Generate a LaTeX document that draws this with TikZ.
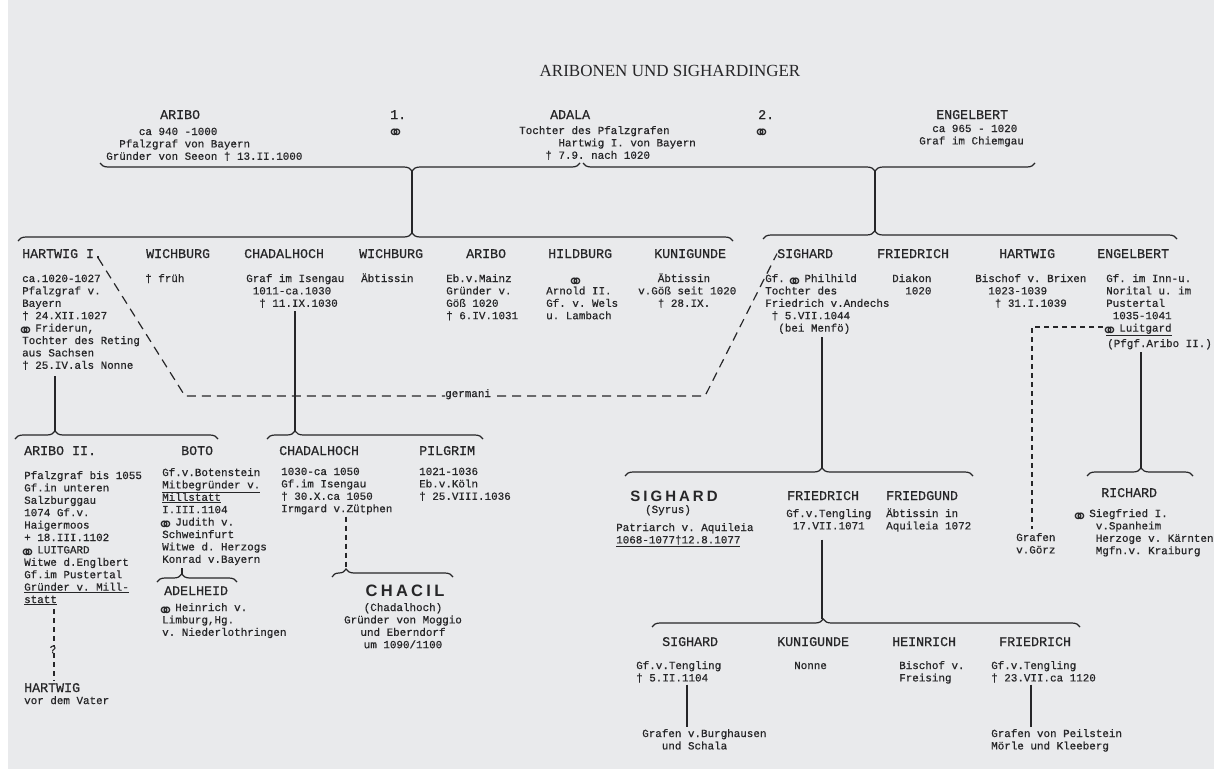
\documentclass[tikz,border=0pt]{standalone}
\usepackage{fontspec}
\setmainfont{Liberation Serif}
\setmonofont[FakeBold=0.6]{Liberation Mono}
\newfontfamily\symfont{DejaVu Sans}
\newfontfamily\widesans[LetterSpace=20]{Liberation Sans}
\usepackage{tikz}
\usetikzlibrary{decorations.pathreplacing,positioning}
\definecolor{paper}{RGB}{233,234,236}
\definecolor{ink}{RGB}{38,38,40}
\newcommand{\mar}{\makebox[0.6em]{\raisebox{-0.55em}[0.7em][0pt]{\scalebox{1.8}{\symfont ⚭}}}}
\newcommand{\dg}{†}
\newcommand{\blk}[1]{\vtop{\let\\\cr\halign{##\hfil\cr#1\crcr}}}
\newcommand{\cblk}[1]{\vtop{\let\\\cr\halign{\hfil##\hfil\cr#1\crcr}}}

\begin{document}
\begin{tikzpicture}[x=1pt,y=-1pt,
   person/.style={font=\ttfamily\fontsize{13.3}{14}\selectfont,anchor=base west,inner sep=0pt,text=ink},
   info/.style={font=\ttfamily\fontsize{10.9}{12.4}\selectfont,anchor=base west,inner sep=0pt,text=ink},
   famous/.style={font=\widesans\bfseries\fontsize{#1}{#1}\selectfont,anchor=base,inner sep=0pt,text=ink},
   clan/.style={draw=ink,line width=1.2pt,decorate,decoration={brace,amplitude=8pt,aspect=#1}},
   uclan/.style={draw=ink,line width=1.2pt,decorate,decoration={brace,mirror,amplitude=8pt,aspect=#1}},
   stem/.style={draw=ink,line width=1.3pt},
   germ/.style={draw=ink,line width=1.2pt,dash pattern=on 9pt off 6pt},
   hint/.style={draw=ink,line width=1.2pt,dash pattern=on 5pt off 4pt}]
   \useasboundingbox (0,0) rectangle (1214,771);
   \fill[paper] (8,0) rectangle (1214,769);

   \node [text=ink,font=\fontsize{17}{18}\selectfont,anchor=base] (title) at (670,76) {ARIBONEN UND SIGHARDINGER};

   \node [person] (aribo)  at (160,119) {ARIBO};
   \node [info]   (aribo-i) at (106,135) {\blk{~~~~~ca 940 -1000\\~~Pfalzgraf von Bayern\\Gründer von Seeon \dg{} 13.II.1000}};
   \node [person] (one)    at (390,119) {1.};
   \node [info]   (mar1)   at (392,134) {\mar};
   \node [person] (adala)  at (550,119) {ADALA};
   \node [info]   (adala-i) at (519,134) {\blk{Tochter des Pfalzgrafen\\~~~~~~Hartwig I. von Bayern\\~~~~\dg{} 7.9. nach 1020}};
   \node [person] (two)    at (758,119) {2.};
   \node [info]   (mar2)   at (758,134) {\mar};
   \node [person] (engel1) at (936,119) {ENGELBERT};
   \node [info]   (engel1-i) at (919,132) {\blk{~~ca 965 - 1020\\Graf im Chiemgau}};

   \coordinate (j1) at (412,171);
   \coordinate (j2) at (875,171);
   \coordinate (k1) at (412,233);
   \coordinate (k2) at (875,231);
   \draw[uclan=0.65]  (100,163) -- (580,163);
   \draw[uclan=0.646] (583,163) -- (1035,163);
   \draw[stem] (j1) -- (k1);
   \draw[stem] (j2) -- (k2);
   \draw[clan=0.551] (18,241) -- (733,241);
   \draw[clan=0.27]  (763,239) -- (1177,239);

   \node [person] (hartI)  at (22,258) {HARTWIG I.};
   \node [info]   (hartI-i) at (22,282) {\blk{ca.1020-1027\\Pfalzgraf v.\\Bayern\\\dg{} 24.XII.1027\\\mar{} Friderun,\\Tochter des Reting\\aus Sachsen\\\dg{} 25.IV.als Nonne}};
   \node [person] (wich1)  at (146,258) {WICHBURG};
   \node [info]   (wich1-i) at (145,282) {\dg{} früh};
   \node [person] (chad1)  at (244,258) {CHADALHOCH};
   \node [info]   (chad1-i) at (246,282) {\blk{Graf im Isengau\\~1011-ca.1030\\~~\dg{} 11.IX.1030}};
   \node [person] (wich2)  at (359,258) {WICHBURG};
   \node [info]   (wich2-i) at (361,282) {Äbtissin};
   \node [person] (arib2)  at (466,258) {ARIBO};
   \node [info]   (arib2-i) at (446,282) {\blk{Eb.v.Mainz\\Gründer v.\\Göß 1020\\\dg{} 6.IV.1031}};
   \node [person] (hild)   at (548,258) {HILDBURG};
   \node [info]   (hild-i) at (546,282) {\blk{~~~~\mar\\Arnold II.\\Gf. v. Wels\\u. Lambach}};
   \node [person] (kuni1)  at (654,258) {KUNIGUNDE};
   \node [info]   (kuni1-i) at (638,282) {\blk{~~~Äbtissin\\v.Göß seit 1020\\~~~\dg{} 28.IX.}};
   \node [person] (sig1)   at (777,258) {SIGHARD};
   \node [info]   (sig1-i) at (765,282) {\blk{Gf. \mar{} Philhild\\Tochter des\\Friedrich v.Andechs\\~\dg{} 5.VII.1044\\~~(bei Menfö)}};
   \node [person] (fried1) at (877,258) {FRIEDRICH};
   \node [info]   (fried1-i) at (892,282) {\blk{Diakon\\~~1020}};
   \node [person] (hart2)  at (999,258) {HARTWIG};
   \node [info]   (hart2-i) at (975,282) {\blk{Bischof v. Brixen\\~~1023-1039\\~~~\dg{} 31.I.1039}};
   \node [person] (engel2) at (1097,258) {ENGELBERT};
   \node [info]   (engel2-i) at (1106,282) {\blk{Gf. im Inn-u.\\Norital u. im\\Pustertal\\~1035-1041\\\underline{\mar{} Luitgard}}};
   \node [info]   (pfgf)   at (1107,347) {(Pfgf.Aribo II.)};

   \node [info] (germani) at (445,397) {germani};
   \draw[germ] ([xshift=-4pt]hartI.base east) -- (185,396) -- (germani.west |- 0,396);
   \draw[germ] ([xshift=6pt]germani.east |- 0,396) -- (705,396) -- (sig1.west);

   \coordinate (l1) at (55,431);
   \coordinate (l2) at (295,431);
   \draw[stem] (hartI-i.south -| 55,0) ++(0,6) -- (l1);
   \draw[stem] (chad1-i.south -| 295,0) ++(0,3) -- (l2);
   \draw[clan=0.197] (15,439) -- (218,439);
   \draw[clan=0.13]  (267,439) -- (483,439);

   \node [person] (arib3)  at (24,455) {ARIBO II.};
   \node [info]   (arib3-i) at (24,479) {\blk{Pfalzgraf bis 1055\\Gf.in unteren\\Salzburggau\\1074 Gf.v.\\Haigermoos\\+ 18.III.1102\\\mar{} LUITGARD\\Witwe d.Englbert\\Gf.im Pustertal\\\underline{Gründer v. Mill-}\\\underline{statt}}};
   \node [info,anchor=base] (qm) at (53,653) {?};
   \node [person] (hart3)  at (24,692) {HARTWIG};
   \node [info]   (hart3-i) at (24,704) {vor dem Vater};
   \draw[hint] (arib3-i.south -| 54,0) ++(0,4) -- (qm.north -| 54,0);
   \draw[hint] (qm.south -| 54,0) -- ([yshift=2pt]hart3.north -| 54,0);

   \node [person] (boto)   at (181,455) {BOTO};
   \node [info]   (boto-i) at (162,476) {\blk{Gf.v.Botenstein\\\underline{Mitbegründer v.}\\\underline{Millstatt}\\I.III.1104\\\mar{} Judith v.\\Schweinfurt\\Witwe d. Herzogs\\Konrad v.Bayern}};
   \coordinate (l6) at (182,574);
   \draw[stem] (boto-i.south -| 182,0) ++(0,3) -- (l6);
   \draw[clan=0.31] (157,582) -- (237,582);
   \node [person] (adel)   at (164,595) {ADELHEID};
   \node [info]   (adel-i) at (162,611) {\blk{\mar{} Heinrich v.\\Limburg,Hg.\\v. Niederlothringen}};

   \node [person] (chad2)  at (279,455) {CHADALHOCH};
   \node [info]   (chad2-i) at (281,475) {\blk{1030-ca 1050\\Gf.im Isengau\\\dg{} 30.X.ca 1050\\Irmgard v.Zütphen}};
   \coordinate (l7) at (346,569);
   \draw[hint] (chad2-i.south -| 346,0) ++(0,2) -- (l7);
   \draw[clan=0.116] (332,577) -- (453,577);
   \node [famous=16.5] (chacil) at (405,596) {CHACIL};
   \node [info,anchor=base] (chacil-i) at (403,611) {\cblk{(Chadalhoch)\\Gründer von Moggio\\und Eberndorf\\um 1090/1100}};
   \node [person] (pil)    at (419,455) {PILGRIM};
   \node [info]   (pil-i)  at (419,475) {\blk{1021-1036\\Eb.v.Köln\\\dg{} 25.VIII.1036}};

   \coordinate (l3) at (822,468);
   \draw[stem] (sig1-i.south -| 822,0) ++(0,3) -- (l3);
   \draw[clan=0.566] (625,476) -- (973,476);
   \node [famous=15] (sig2) at (674,501) {SIGHARD};
   \node [info,anchor=base] (syrus) at (668,513) {(Syrus)};
   \node [info]   (sig2-i) at (616,531) {\blk{Patriarch v. Aquileia\\\underline{1068-1077\dg{}12.8.1077}}};
   \node [person] (fried2) at (787,500) {FRIEDRICH};
   \node [info]   (fried2-i) at (786,517) {\blk{Gf.v.Tengling\\~17.VII.1071}};
   \node [person] (friedg) at (886,500) {FRIEDGUND};
   \node [info]   (friedg-i) at (886,517) {\blk{Äbtissin in\\Aquileia 1072}};

   \coordinate (lu) at (1103,327);
   \node [info] (goerz) at (1016,541) {\blk{Grafen\\v.Görz}};
   \draw[hint] (lu) -| ([yshift=4pt]goerz.north -| 1032,0);
   \coordinate (l4) at (1141,468);
   \draw[stem] (pfgf.south -| 1141,0) ++(0,3) -- (l4);
   \draw[clan=0.51] (1087,476) -- (1193,476);
   \node [person] (rich)   at (1101,497) {RICHARD};
   \node [info]   (rich-i) at (1076,517) {\blk{\mar{} Siegfried I.\\~~~v.Spanheim\\~~~Herzoge v. Kärnten\\~~~Mgfn.v. Kraiburg}};

   \coordinate (l5) at (822,619);
   \draw[stem] (fried2-i.south -| 822,0) ++(0,10) -- (l5);
   \draw[clan=0.4] (652,627) -- (1080,627);
   \node [person] (sig3)   at (662,646) {SIGHARD};
   \node [info]   (sig3-i) at (636,669) {\blk{Gf.v.Tengling\\\dg{} 5.II.1104}};
   \node [person] (kuni2)  at (777,646) {KUNIGUNDE};
   \node [info]   (kuni2-i) at (794,669) {Nonne};
   \node [person] (hein)   at (892,646) {HEINRICH};
   \node [info]   (hein-i) at (899,669) {\blk{Bischof v.\\Freising}};
   \node [person] (fried3) at (999,646) {FRIEDRICH};
   \node [info]   (fried3-i) at (991,669) {\blk{Gf.v.Tengling\\\dg{} 23.VII.ca 1120}};
   \node [info]   (burg)   at (642,737) {\blk{Grafen v.Burghausen\\~~~und Schala}};
   \node [info]   (peil)   at (991,737) {\blk{Grafen von Peilstein\\Mörle und Kleeberg}};
   \draw[stem] (sig3-i.south -| 687,0) ++(0,2) -- ([yshift=2pt]burg.north -| 687,0);
   \draw[stem] (fried3-i.south -| 1031,0) ++(0,2) -- ([yshift=2pt]peil.north -| 1031,0);
\end{tikzpicture}
\end{document}
